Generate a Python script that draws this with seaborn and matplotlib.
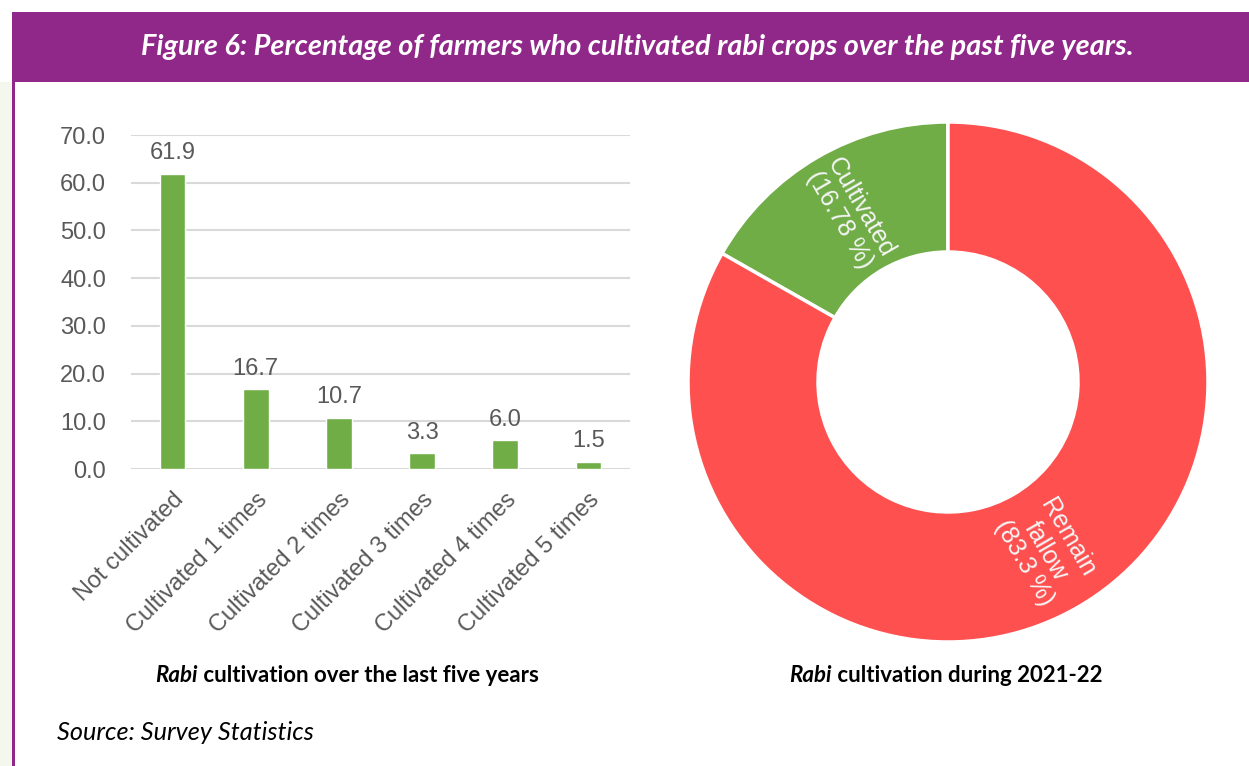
import matplotlib
matplotlib.use("Agg")
import matplotlib.pyplot as plt
from matplotlib.patches import Rectangle
import seaborn as sns
import pandas as pd
import numpy as np

# Rabi cultivation frequency over the last five years (% of farmers)
categories = ["Not cultivated", "Cultivated 1 times", "Cultivated 2 times",
              "Cultivated 3 times", "Cultivated 4 times", "Cultivated 5 times"]
shares = [61.9, 16.7, 10.7, 3.3, 6.0, 1.5]

# Rabi cultivation status during 2021-22 (%)
status_labels = ["Cultivated", "Remain\nfallow"]
status_values = [16.78, 83.3]
status_text = ["16.78", "83.3"]

y_ticks = [0, 10, 20, 30, 40, 50, 60, 70]

GREEN = "#70AD47"
RED = "#FF5050"
PURPLE = "#902889"
GRAY = "#595959"
HUMANIST = ["Lato", "DejaVu Sans"]

sns.set_theme(style="white")
plt.rcParams["font.family"] = ["Liberation Sans", "DejaVu Sans"]

W, H = 1249, 766
fig = plt.figure(figsize=(W / 100, H / 100), dpi=100)
fig.patch.set_facecolor("white")

# page frame: pale margin, purple side rule and title banner
fig.add_artist(Rectangle((0, 0), 12 / W, (H - 82) / H, transform=fig.transFigure,
                         facecolor="#F3F7EE", edgecolor="none", zorder=0))
fig.add_artist(Rectangle((12 / W, 0), 3 / W, (H - 82) / H, transform=fig.transFigure,
                         facecolor=PURPLE, edgecolor="none", zorder=1))
fig.add_artist(Rectangle((12 / W, (H - 82) / H), (W - 12) / W, 70 / H,
                         transform=fig.transFigure, facecolor=PURPLE,
                         edgecolor="none", zorder=1))
fig.text(637 / W, (H - 47) / H,
         "Figure 6: Percentage of farmers who cultivated rabi crops over the past five years.",
         ha="center", va="center", color="white", fontsize=20.8, fontweight="bold",
         fontstyle="italic", family=HUMANIST, zorder=2)

# ---- bar chart ----
ax = fig.add_axes([131 / W, (H - 469) / H, 499 / W, 334 / H])
df = pd.DataFrame({"category": categories, "share": shares})
sns.barplot(data=df, x="category", y="share", color=GREEN, width=0.31,
            saturation=1, ax=ax)
ax.set_ylim(0, 70)
ax.set_xlim(-0.5, len(categories) - 0.5)
ax.set_yticks(y_ticks)
ax.set_yticklabels([f"{v:.1f}" for v in y_ticks])
ax.yaxis.grid(True, color="#D9D9D9", linewidth=1.5)
ax.set_axisbelow(True)
for s in ax.spines.values():
    s.set_visible(False)
ax.tick_params(axis="y", labelsize=17, colors=GRAY, length=0, pad=18)
ax.tick_params(axis="x", labelsize=17, colors=GRAY, length=0, pad=14)
plt.setp(ax.get_xticklabels(), rotation=45, ha="right", rotation_mode="anchor")
ax.set_xlabel("")
ax.set_ylabel("")
for c in ax.containers:
    ax.bar_label(c, fmt="%.1f", padding=7, fontsize=17, color=GRAY)

# ---- donut chart ----
ax2 = fig.add_axes([688 / W, (H - 642) / H, 520 / W, 520 / H])
wedges, _ = ax2.pie(status_values, colors=[GREEN, RED], startangle=90,
                    counterclock=True, radius=1,
                    wedgeprops=dict(width=0.5, edgecolor="white", linewidth=2.5))
ax2.set_xlim(-1, 1)
ax2.set_ylim(-1, 1)
ax2.set_aspect("equal")
ax2.axis("off")
for w, lab, txt in zip(wedges, status_labels, status_text):
    ang = (w.theta1 + w.theta2) / 2
    r = 0.75
    x, y = r * np.cos(np.radians(ang)), r * np.sin(np.radians(ang))
    rot = ang - 180 if ang < 180 else ang - 360
    ax2.text(x, y, f"{lab}\n({txt} %)", ha="center", va="center",
             rotation=rot, rotation_mode="anchor", color="#F5F5F5",
             fontsize=18, linespacing=1.05)

# ---- captions: italic "Rabi" followed by bold text, centred under each chart ----
renderer = fig.canvas.get_renderer()


def caption(x_center, y, italic_part, rest, size=16):
    yf = (H - y) / H
    t1 = fig.text(0, yf, italic_part, ha="left", va="center", fontsize=size,
                  fontweight="bold", fontstyle="italic", family=HUMANIST,
                  color="black")
    t2 = fig.text(0, yf, " " + rest, ha="left", va="center", fontsize=size,
                  fontweight="bold", family=HUMANIST, color="black")
    w1 = t1.get_window_extent(renderer).width
    w2 = t2.get_window_extent(renderer).width
    left = x_center - (w1 + w2) / 2
    t1.set_x(left / W)
    t2.set_x((left + w1) / W)


caption(347, 676, "Rabi", "cultivation over the last five years")
caption(946, 676, "Rabi", "cultivation during 2021-22")

fig.text(57 / W, (H - 733) / H, "Source: Survey Statistics", ha="left",
         va="center", fontsize=18.2, fontstyle="italic", family=HUMANIST,
         color="black")

fig.savefig("out.png", dpi=100, facecolor="white")
